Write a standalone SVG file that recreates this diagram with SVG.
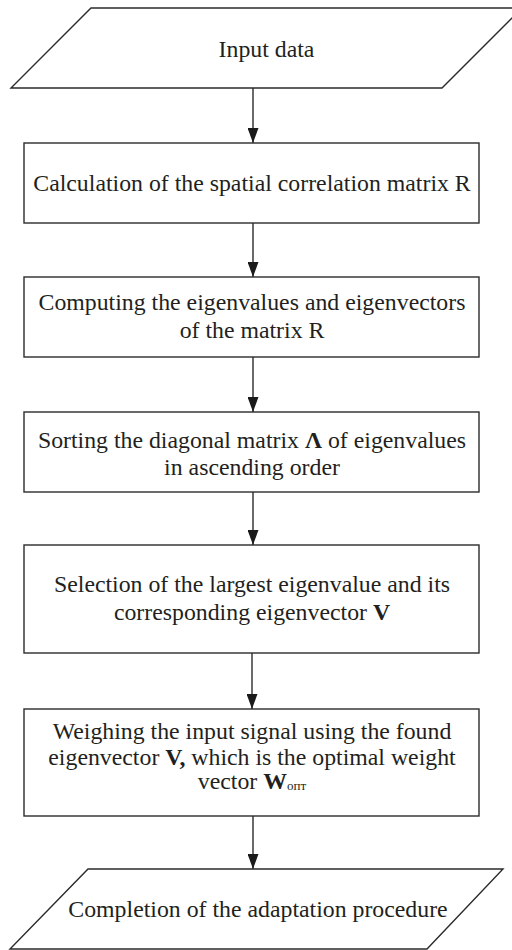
<svg xmlns="http://www.w3.org/2000/svg" width="512" height="950" viewBox="0 0 512 950">
<style>
.shape{fill:#fff;stroke:#2b2b2b;stroke-width:1.4}
.t{font-family:"Liberation Serif","Times New Roman",serif;font-size:23.8px;fill:#231f20;text-anchor:middle}
.b{font-weight:bold}
.conn line{stroke:#2b2b2b;stroke-width:1.4}
</style>
<defs>
<marker id="ah" markerWidth="15" markerHeight="11" refX="15" refY="5.5" orient="auto" markerUnits="userSpaceOnUse" viewBox="0 0 15 11">
<path d="M0,0 L15,5.5 L0,11 Z" fill="#1a1a1a"/>
</marker>
</defs>
<rect width="512" height="950" fill="#fff"/>
<g id="input">
<polygon class="shape" points="91,8 522,8 442,88 11,88"/>
<text class="t" x="266.5" y="56.5">Input data</text>
</g>
<g id="calc">
<rect class="shape" x="24" y="143" width="455" height="80"/>
<text class="t" x="252" y="190.5">Calculation of the spatial correlation matrix R</text>
</g>
<g id="compute">
<rect class="shape" x="24" y="277" width="455" height="80"/>
<text class="t" x="252" y="310">Computing the eigenvalues and eigenvectors</text>
<text class="t" x="252" y="338">of the matrix R</text>
</g>
<g id="sort">
<rect class="shape" x="24" y="412" width="455" height="80"/>
<text class="t" x="252" y="448">Sorting the diagonal matrix <tspan class="b">Λ</tspan> of eigenvalues</text>
<text class="t" x="252" y="475">in ascending order</text>
</g>
<g id="select">
<rect class="shape" x="24" y="545" width="455" height="108"/>
<text class="t" x="252" y="592">Selection of the largest eigenvalue and its</text>
<text class="t" x="252" y="620">corresponding eigenvector <tspan class="b">V</tspan></text>
</g>
<g id="weigh">
<rect class="shape" x="24" y="709" width="455" height="107"/>
<text class="t" x="252" y="739">Weighing the input signal using the found</text>
<text class="t" x="252" y="765">eigenvector <tspan class="b">V,</tspan> which is the optimal weight</text>
<text class="t" x="252" y="789">vector <tspan class="b">W</tspan><tspan font-size="13" dy="1">опт</tspan></text>
</g>
<g id="complete">
<polygon class="shape" points="88,869 503,869 427,949 10,949"/>
<text class="t" x="258" y="917">Completion of the adaptation procedure</text>
</g>
<g id="connectors" class="conn">
<line x1="253" y1="88" x2="253" y2="143" marker-end="url(#ah)"/>
<line x1="253" y1="223" x2="253" y2="277" marker-end="url(#ah)"/>
<line x1="253" y1="357" x2="253" y2="412" marker-end="url(#ah)"/>
<line x1="253" y1="492" x2="253" y2="545" marker-end="url(#ah)"/>
<line x1="252" y1="653" x2="252" y2="709" marker-end="url(#ah)"/>
<line x1="253" y1="816" x2="253" y2="869" marker-end="url(#ah)"/>
</g>
</svg>
